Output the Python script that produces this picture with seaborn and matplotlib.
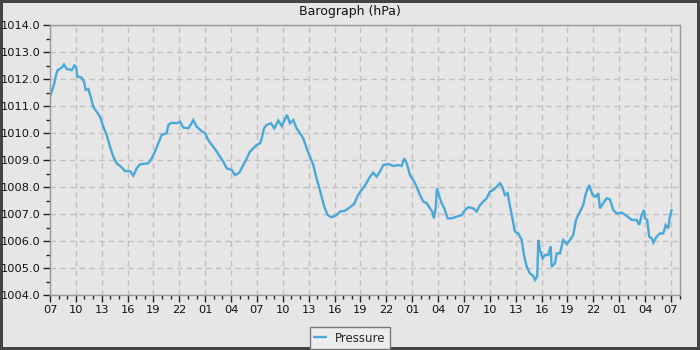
import matplotlib
matplotlib.use("Agg")
import matplotlib.pyplot as plt
import seaborn as sns
import pandas as pd
from matplotlib.ticker import MultipleLocator

# hours since the first 07:00 tick
hours = [0.0, 0.2, 0.5, 0.7, 0.9, 1.36, 1.62, 1.94, 2.52, 2.82, 3.01, 3.17, 3.68, 3.94, 4.14,
         4.44, 4.72, 5.02, 5.41, 5.80, 6.18, 6.57, 6.96, 7.34, 7.73, 8.23, 8.70, 9.28, 9.66,
         10.05, 10.43, 11.40, 11.79, 12.17, 12.56, 12.95, 13.53, 13.72, 14.11, 14.69, 15.07,
         15.46, 16.03, 16.31, 16.61, 17.01, 17.59, 17.97, 18.35, 18.75, 19.21, 19.71, 20.09,
         20.49, 21.07, 21.45, 21.95, 22.41, 22.81, 23.19, 23.57, 23.97, 24.35, 24.55, 24.81,
         25.12, 25.62, 26.01, 26.47, 26.86, 27.17, 27.48, 27.83, 28.21, 28.60, 28.99, 29.37,
         29.76, 30.14, 30.53, 30.81, 31.19, 31.50, 31.80, 32.20, 32.66, 33.24, 33.62, 34.20,
         34.78, 35.28, 35.68, 36.14, 36.52, 37.10, 37.48, 37.88, 38.26, 38.64, 39.22, 39.80,
         40.38, 40.78, 41.08, 41.36, 41.74, 42.12, 42.52, 42.90, 43.28, 43.68, 44.06, 44.32,
         44.52, 44.72, 44.87, 45.10, 45.33, 45.72, 46.11, 46.57, 47.15, 47.73, 48.12, 48.50,
         49.08, 49.47, 49.86, 50.24, 50.63, 51.01, 51.40, 51.79, 52.17, 52.44, 52.75, 53.07,
         53.33, 53.65, 53.91, 54.30, 54.69, 54.96, 55.27, 55.65, 56.04, 56.23, 56.50, 56.62,
         56.81, 57.12, 57.39, 57.77, 58.05, 58.17, 58.55, 58.75, 59.13, 59.51, 59.91, 60.29,
         60.67, 60.99, 61.45, 61.83, 62.14, 62.53, 62.92, 63.30, 63.57, 63.77, 64.15, 64.55,
         64.93, 65.31, 65.71, 66.28, 66.86, 67.44, 68.02, 68.32, 68.60, 68.87, 68.99, 69.25,
         69.48, 69.76, 69.95, 70.34, 70.72, 71.11, 71.39, 71.69, 71.88, 72.08]

pressure = [1011.35, 1011.53, 1011.84, 1012.15, 1012.33, 1012.42, 1012.54, 1012.37, 1012.33,
            1012.50, 1012.46, 1012.09, 1012.05, 1011.90, 1011.60, 1011.63, 1011.35, 1010.97,
            1010.79, 1010.60, 1010.23, 1009.93, 1009.49, 1009.12, 1008.88, 1008.75, 1008.59,
            1008.59, 1008.42, 1008.69, 1008.84, 1008.88, 1009.06, 1009.31, 1009.62, 1009.93,
            1009.99, 1010.30, 1010.38, 1010.36, 1010.42, 1010.20, 1010.17, 1010.30, 1010.48,
            1010.23, 1010.07, 1010.00, 1009.74, 1009.56, 1009.37, 1009.12, 1008.94, 1008.69,
            1008.63, 1008.44, 1008.53, 1008.81, 1009.06, 1009.31, 1009.43, 1009.56, 1009.62,
            1009.80, 1010.17, 1010.30, 1010.36, 1010.17, 1010.46, 1010.26, 1010.46, 1010.67,
            1010.36, 1010.48, 1010.17, 1009.99, 1009.80, 1009.43, 1009.12, 1008.81, 1008.44,
            1008.01, 1007.64, 1007.27, 1006.96, 1006.88, 1006.96, 1007.09, 1007.12, 1007.25,
            1007.38, 1007.68, 1007.90, 1008.05, 1008.38, 1008.53, 1008.38, 1008.57, 1008.81,
            1008.85, 1008.78, 1008.81, 1008.78, 1009.06, 1008.88, 1008.44, 1008.26, 1008.01,
            1007.70, 1007.46, 1007.40, 1007.21, 1007.09, 1006.84, 1007.21, 1007.95, 1007.70,
            1007.46, 1007.21, 1006.84, 1006.84, 1006.90, 1006.96, 1007.15, 1007.25, 1007.21,
            1007.09, 1007.33, 1007.46, 1007.58, 1007.83, 1007.89, 1008.01, 1008.14, 1008.01,
            1007.70, 1007.77, 1007.30, 1006.78, 1006.35, 1006.28, 1006.04, 1005.48, 1005.05,
            1004.80, 1004.70, 1004.56, 1004.70, 1006.04, 1005.67, 1005.36, 1005.48, 1005.48,
            1005.81, 1005.05, 1005.17, 1005.54, 1005.54, 1006.04, 1005.89, 1006.04, 1006.22,
            1006.78, 1007.09, 1007.33, 1007.77, 1008.07, 1007.70, 1007.64, 1007.77, 1007.21,
            1007.40, 1007.58, 1007.54, 1007.15, 1007.02, 1007.05, 1006.93, 1006.78, 1006.78,
            1006.59, 1006.96, 1007.15, 1006.84, 1006.78, 1006.16, 1006.10, 1005.94, 1006.16,
            1006.28, 1006.28, 1006.59, 1006.47, 1006.90, 1007.15]

tick_hours = list(range(0, 73, 3))
tick_labels = ["07", "10", "13", "16", "19", "22", "01", "04",
               "07", "10", "13", "16", "19", "22", "01", "04",
               "07", "10", "13", "16", "19", "22", "01", "04", "07"]
y_ticks = [1004, 1005, 1006, 1007, 1008, 1009, 1010, 1011, 1012, 1013, 1014]

df = pd.DataFrame({"hours": hours, "Pressure": pressure})

sns.set_style("white")
plt.rcParams['font.family'] = ['DejaVu Sans']
bg = "#e6e6e6"
fig = plt.figure(figsize=(7, 3.5), dpi=100, facecolor=bg)
fig.patch.set_edgecolor("#444444")
fig.patch.set_linewidth(4)
ax = fig.add_axes([50/700, 1-295/350, 630/700, 270/350])
ax.set_facecolor(bg)

sns.lineplot(data=df, x="hours", y="Pressure", ax=ax, color="#4aa8d8", linewidth=1.7,
             estimator=None, sort=False, label="Pressure", legend=False,
             solid_joinstyle="miter")

ax.set_xlim(0, 73.05)
ax.set_ylim(1004, 1014)
ax.set_xticks(tick_hours)
ax.set_xticklabels(tick_labels)
ax.xaxis.set_minor_locator(MultipleLocator(1))
ax.set_yticks(y_ticks)
ax.set_yticklabels([f"{v:.1f}" for v in y_ticks])
ax.yaxis.set_minor_locator(MultipleLocator(0.5))
ax.tick_params(axis="both", which="major", length=5, width=1, color="#222222",
               labelsize=8.2, labelcolor="#111111", direction="out", pad=2)
ax.tick_params(axis="both", which="minor", length=3, width=1, color="#222222", direction="out")
ax.tick_params(axis="x", which="both", bottom=True)
ax.tick_params(axis="y", which="both", left=True)
ax.set_xlabel("")
ax.set_ylabel("")
ax.grid(True, which="major", color="#c0c0c0", linestyle=(0, (4, 3)), linewidth=1)
for s in ax.spines.values():
    s.set_visible(True)
    s.set_color("#999999")
    s.set_linewidth(1)

fig.text(0.5, 1-11/350, "Barograph (hPa)", ha="center", va="center", fontsize=9, color="#111111")

handles, labels = ax.get_legend_handles_labels()
leg = fig.legend(handles, labels, loc="center", bbox_to_anchor=(350/700, 1-338/350),
                 fontsize=8.5, frameon=True, fancybox=False, handlelength=1.0,
                 handletextpad=0.8, borderpad=0.35, edgecolor="#777777", facecolor="#ececec")
leg.get_frame().set_linewidth(1)
leg.get_frame().set_alpha(1)

fig.savefig("out.png", dpi=100, facecolor=bg, edgecolor="#444444")
